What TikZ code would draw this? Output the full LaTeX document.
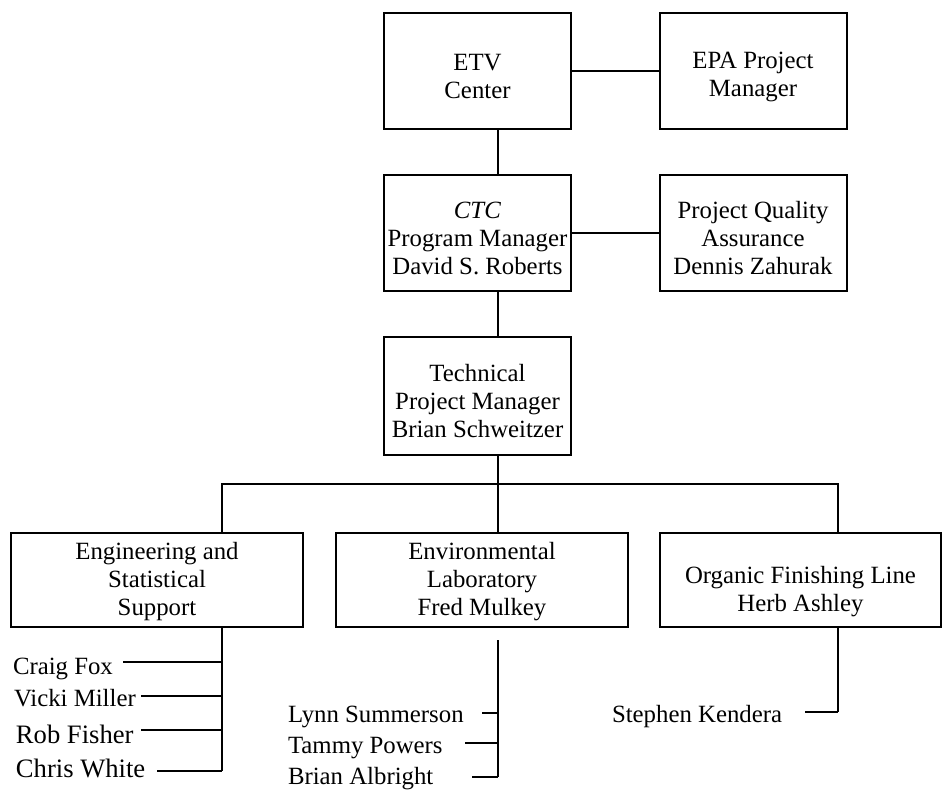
\documentclass[tikz,border=0pt]{standalone}
\usepackage{fontspec}
\setmainfont{Liberation Serif}

\begin{document}
\begin{tikzpicture}[x=0.5pt, y=-0.5pt, line width=1pt,
    box/.style={draw, align=center, inner sep=0pt, font=\fontsize{12.4}{13.9}\selectfont},
    topbox/.style={box, minimum width=93.5pt, minimum height=58pt},
    lowbox/.style={box, minimum width=146pt, minimum height=47pt},
    person/.style={anchor=base west, inner sep=0pt, font=\fontsize{12.4}{14}\selectfont},
    bigperson/.style={person, font=\fontsize{13.3}{15}\selectfont}]
    \useasboundingbox (0,0) rectangle (942,789);
    % upper chain
    \node[topbox] (etv) at (477.5,71) {\mbox{}\\ETV\\Center};
    \node[topbox] (epa) at (753,71) {\mbox{}\\EPA Project\\Manager};
    \node[topbox] (ctc) at (477.5,233) {\mbox{}\\\textit{CTC}\\Program Manager\\David S. Roberts};
    \node[topbox] (pqa) at (753,233) {\mbox{}\\Project Quality\\Assurance\\Dennis Zahurak};
    \node[topbox, minimum height=59pt] (tech) at (477.5,396) {\mbox{}\\Technical\\Project Manager\\Brian Schweitzer};
    % groups
    \node[lowbox] (eng) at (157,580) {\mbox{}\\[-3.7pt]Engineering and\\Statistical\\Support};
    \node[lowbox] (env) at (482,580) {\mbox{}\\[-3.7pt]Environmental\\Laboratory\\Fred Mulkey};
    \node[lowbox, minimum width=140.5pt] (ofl) at (800.5,580) {\mbox{}\\[6pt]Organic Finishing Line\\Herb Ashley};
    % staff
    \node[person] (craig) at (12,674) {Craig Fox};
    \node[person] (vicki) at (13,706) {Vicki Miller};
    \node[bigperson] (rob) at (15,743) {Rob Fisher};
    \node[bigperson] (chris) at (15,777) {Chris White};
    \node[person] (lynn) at (287,722) {Lynn Summerson};
    \node[person] (tammy) at (287,753) {Tammy Powers};
    \node[person] (brian) at (287,784) {Brian Albright};
    \node[person] (stephen) at (611,722) {Stephen Kendera};

    \coordinate (spine) at (498,0);
    \coordinate (engx) at (222,0);
    \coordinate (oflx) at (838,0);
    \coordinate (bar) at (0,484);
    \coordinate (envgap) at (498,640);
    \coordinate (craig-t) at (123,662);
    \coordinate (vicki-t) at (141,696);
    \coordinate (rob-t) at (141,730);
    \coordinate (chris-t) at (157,771);
    \coordinate (lynn-t) at (482,713);
    \coordinate (tammy-t) at (465,743);
    \coordinate (brian-t) at (472,777);
    \coordinate (stephen-t) at (805,712);

    \draw (etv) -- (epa);
    \draw (ctc) -- (pqa);
    \draw (etv.south -| spine) -- (ctc.north -| spine);
    \draw (ctc.south -| spine) -- (tech.north -| spine);
    \draw (tech.south -| spine) -- (env.north -| spine);
    \draw (eng.north -| engx) -- (bar -| engx) -- (bar -| oflx) -- (ofl.north -| oflx);
    % staff lines
    \draw (eng.south -| engx) -- (chris-t -| engx);
    \draw (craig-t) -- (craig-t -| engx);
    \draw (vicki-t) -- (vicki-t -| engx);
    \draw (rob-t) -- (rob-t -| engx);
    \draw (chris-t) -- (chris-t -| engx);
    \draw (envgap) -- (brian-t -| spine);
    \draw (lynn-t) -- (lynn-t -| spine);
    \draw (tammy-t) -- (tammy-t -| spine);
    \draw (brian-t) -- (brian-t -| spine);
    \draw (ofl.south -| oflx) -- (stephen-t -| oflx);
    \draw (stephen-t) -- (stephen-t -| oflx);
\end{tikzpicture}
\end{document}
